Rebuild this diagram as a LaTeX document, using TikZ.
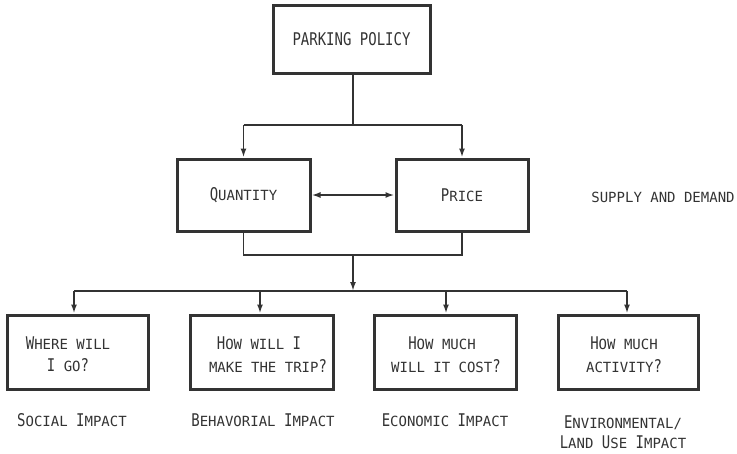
\documentclass[tikz,border=0pt]{standalone}
\usepackage{fontspec}
\usetikzlibrary{arrows.meta}
\newfontfamily\lettS{DejaVu Sans Mono}
\newfontfamily\lettB[FakeStretch=0.8]{DejaVu Sans Mono}
\newcommand{\Bg}[1]{{\lettB\fontsize{17.5}{20}\selectfont #1}}
\definecolor{ink}{HTML}{333333}
\begin{document}
\begin{tikzpicture}[x=1pt,y=-1pt,
  every node/.style={text=ink, font=\lettS\fontsize{14}{22}\selectfont},
  box/.style={draw=ink, line width=3pt, inner sep=0pt, align=center},
  conn/.style={draw=ink, line width=1.8pt},
  arr/.style={conn, -{Latex[length=9pt,width=6pt]}},
  darr/.style={conn, {Latex[length=9pt,width=6pt]}-{Latex[length=9pt,width=6pt]}},
  lbl/.style={inner sep=0pt, align=center}]
\useasboundingbox (0,0) rectangle (737,453);

\node[box, minimum width=157pt, minimum height=68pt] (pp) at (351.5,39) {\Bg{PARKING POLICY}};
\node[box, minimum width=133pt, minimum height=72pt] (qty) at (243.5,195) {\Bg{Q}UANTITY};
\node[box, minimum width=132pt, minimum height=72pt] (price) at (462,195) {\Bg{P}RICE};
\node[lbl] (sd) at (663,197) {SUPPLY AND DEMAND};

\node[box, minimum width=141pt, minimum height=74pt] (b1) at (77.5,352) {};
\node[box, minimum width=143pt, minimum height=74pt] (b2) at (261.5,352) {};
\node[box, minimum width=142pt, minimum height=74pt] (b3) at (445,352) {};
\node[box, minimum width=140pt, minimum height=74pt] (b4) at (628,352) {};

\node[lbl] (t1a) at (68,343) {\Bg{W}HERE WILL};
\node[lbl] (t1b) at (68,365.5) {\Bg{I} GO\Bg{?}};
\node[lbl] (t2a) at (259,343) {\Bg{H}OW WILL \Bg{I}};
\node[lbl] (t2b) at (268,366) {MAKE THE TRIP\Bg{?}};
\node[lbl] (t3a) at (442,343) {\Bg{H}OW MUCH};
\node[lbl] (t3b) at (446,366) {WILL IT COST\Bg{?}};
\node[lbl] (t4a) at (624,343) {\Bg{H}OW MUCH};
\node[lbl] (t4b) at (624,366) {ACTIVITY\Bg{?}};

\node[lbl] (l1) at (72,420) {\Bg{S}OCIAL \Bg{I}MPACT};
\node[lbl] (l2) at (263,420) {\Bg{B}EHAVORIAL \Bg{I}MPACT};
\node[lbl] (l3) at (445,420) {\Bg{E}CONOMIC \Bg{I}MPACT};
\node[lbl] (l4a) at (623,423) {\Bg{E}NVIRONMENTAL/};
\node[lbl] (l4b) at (623,442) {\Bg{L}AND \Bg{U}SE \Bg{I}MPACT};

\coordinate (t) at (353,125);
\coordinate (j) at (353,255);
\coordinate (bus) at (353,291);
\coordinate (a1) at (74,291);
\coordinate (a2) at (260,291);
\coordinate (a3) at (446,291);
\coordinate (a4) at (627,291);

\draw[conn] (pp.south -| t) -- (t);
\draw[conn] (t -| qty.north) -- (t -| price.north);
\draw[arr] (t -| qty.north) -- (qty.north);
\draw[arr] (t -| price.north) -- (price.north);
\draw[darr] (qty.east) -- (price.west);
\draw[conn] (qty.south) |- (j) -| (price.south);
\draw[arr] (j) -- (bus);
\draw[conn] (a1) -- (a4);
\draw[arr] (a1) -- (a1 |- b1.north);
\draw[arr] (a2) -- (a2 |- b2.north);
\draw[arr] (a3) -- (a3 |- b3.north);
\draw[arr] (a4) -- (a4 |- b4.north);
\end{tikzpicture}
\end{document}
